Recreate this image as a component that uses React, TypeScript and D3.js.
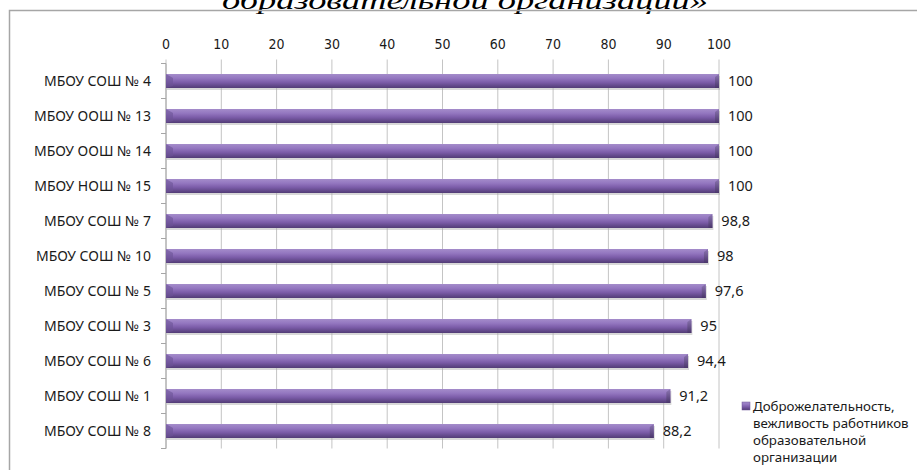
import React from "react";
import * as d3 from "d3";

const categories = [
  "МБОУ СОШ № 4",
  "МБОУ ООШ № 13",
  "МБОУ ООШ № 14",
  "МБОУ НОШ № 15",
  "МБОУ СОШ № 7",
  "МБОУ СОШ № 10",
  "МБОУ СОШ № 5",
  "МБОУ СОШ № 3",
  "МБОУ СОШ № 6",
  "МБОУ СОШ № 1",
  "МБОУ СОШ № 8",
];
const values = [100, 100, 100, 100, 98.8, 98, 97.6, 95, 94.4, 91.2, 88.2];
const ticks = [0, 10, 20, 30, 40, 50, 60, 70, 80, 90, 100];
const legendLines = [
  "Доброжелательность,",
  "вежливость работников",
  "образовательной",
  "организации",
];
const titleText = "образовательной организации»";

const W = 917;
const H = 470;
const plot = { left: 166, right: 719, top: 63.5, bottom: 448.5 };

export default function App() {
  const x = d3.scaleLinear().domain([0, 100]).range([plot.left, plot.right]);
  const y = d3
    .scaleBand<string>()
    .domain(categories)
    .range([plot.top, plot.bottom])
    .paddingInner(0.6)
    .paddingOuter(0.3);
  const bh = y.bandwidth();
  const fmt = (v: number) => String(v).replace(".", ",");
  const labelFont = "'Noto Sans', 'Open Sans', sans-serif";
  return (
    <svg
      width={W}
      height={H}
      style={{ position: "absolute", left: 0, top: 0, background: "#fff" }}
      fontFamily={labelFont}
    >
      <defs>
        <linearGradient id="barGrad" x1="0" y1="0" x2="0" y2="1">
          <stop offset="0" stopColor="#a48cca" />
          <stop offset="0.3" stopColor="#9477c0" />
          <stop offset="0.6" stopColor="#7b5ca8" />
          <stop offset="1" stopColor="#523c76" />
        </linearGradient>
        <linearGradient id="capGrad" x1="0" y1="0" x2="0" y2="1">
          <stop offset="0" stopColor="#8d76b3" />
          <stop offset="1" stopColor="#4a366b" />
        </linearGradient>
      </defs>
      {/* title fragment */}
      <text
        x={465}
        y={9}
        textAnchor="middle"
        fontFamily="'Liberation Serif', 'DejaVu Serif', serif"
        fontStyle="italic"
        fontSize={25}
        textLength={486}
        lengthAdjust="spacingAndGlyphs"
        fill="#000"
      >
        {titleText}
      </text>
      {/* chart frame */}
      <path d={`M9.5,${H} V10.5 H${W}`} fill="none" stroke="#a6a6a6" strokeWidth={1.5} />
      {/* gridlines */}
      {ticks.map((t) => (
        <line
          key={"g" + t}
          x1={x(t)}
          x2={x(t)}
          y1={plot.top - 4}
          y2={plot.bottom}
          stroke="#c4c4c4"
          strokeWidth={1}
        />
      ))}
      {/* top tick labels */}
      {ticks.map((t) => (
        <text
          key={"t" + t}
          x={x(t)}
          y={49}
          textAnchor="middle"
          fontSize={14}
          fontFamily="'Liberation Sans Narrow', 'DejaVu Sans Condensed', sans-serif"
          fill="#1a1a1a"
        >
          {t}
        </text>
      ))}
      {/* left axis */}
      <line x1={plot.left} x2={plot.left} y1={plot.top} y2={plot.bottom} stroke="#a6a6a6" />
      {d3.range(categories.length + 1).map((i) => {
        const yy = plot.top + ((plot.bottom - plot.top) / categories.length) * i;
        return (
          <line key={"yt" + i} x1={plot.left - 5} x2={plot.left} y1={yy} y2={yy} stroke="#a6a6a6" />
        );
      })}
      {/* category labels */}
      {categories.map((c) => (
        <text
          key={"c" + c}
          x={plot.left - 15}
          y={(y(c) ?? 0) + bh / 2}
          dy="0.35em"
          textAnchor="end"
          fontSize={14}
          fill="#1a1a1a"
        >
          {c}
        </text>
      ))}
      {/* bars */}
      {categories.map((c, i) => {
        const y0 = y(c) ?? 0;
        const x1 = x(values[i]);
        return (
          <g key={"b" + c}>
            <rect
              x={plot.left + 1}
              y={y0 + 2}
              width={x1 - plot.left}
              height={bh}
              fill="#a8a8a8"
              opacity={0.45}
            />
            <rect x={plot.left} y={y0} width={x1 - plot.left} height={bh} fill="url(#barGrad)" />
            <path
              d={`M${plot.left},${y0} L${plot.left + 7},${y0 + 4} L${plot.left + 7},${y0 + bh - 2} L${plot.left},${y0 + bh} Z`}
              fill="#6d5496"
              opacity={0.6}
            />
            <path
              d={`M${x1},${y0} L${x1 - 4},${y0 + 3} L${x1 - 4},${y0 + bh} L${x1},${y0 + bh} Z`}
              fill="url(#capGrad)"
            />
          </g>
        );
      })}
      {/* value labels */}
      {categories.map((c, i) => (
        <text
          key={"v" + c}
          x={x(values[i]) + 9}
          y={(y(c) ?? 0) + bh / 2}
          dy="0.35em"
          fontSize={14.5}
          fill="#1a1a1a"
        >
          {fmt(values[i])}
        </text>
      ))}
      {/* legend */}
      <rect x={742} y={402} width={8} height={8} fill="url(#barGrad)" stroke="#6d5496" strokeWidth={0.5} />
      {legendLines.map((l, i) => (
        <text key={"l" + i} x={753} y={411 + i * 17} fontSize={13.3} fill="#1a1a1a">
          {l}
        </text>
      ))}
    </svg>
  );
}
